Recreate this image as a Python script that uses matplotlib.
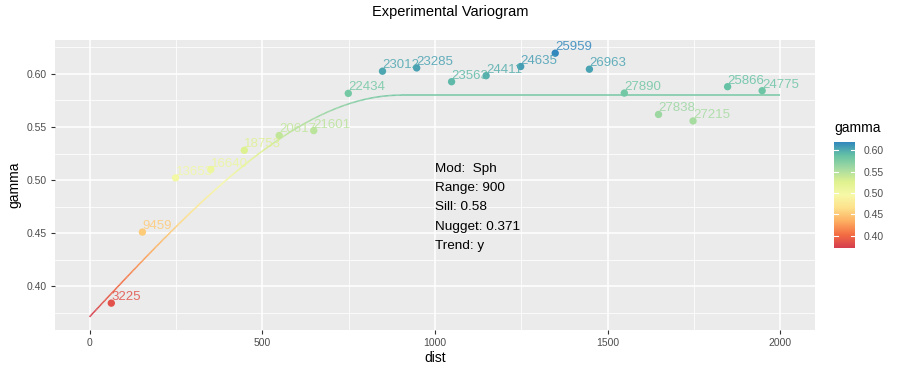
import numpy as np
import matplotlib
matplotlib.use("Agg")
import matplotlib.pyplot as plt
from matplotlib.colors import LinearSegmentedColormap, Normalize
from matplotlib.collections import LineCollection

plt.rcParams['font.family'] = ['Liberation Sans', 'DejaVu Sans']

# Data
dist = [63, 153, 249, 351, 448, 549, 649, 749, 848, 947, 1048, 1148, 1248,
        1348, 1447, 1548, 1647, 1747, 1847, 1947]
gamma = [0.3839, 0.4509, 0.5020, 0.5099, 0.5280, 0.5420, 0.5466, 0.5817,
         0.6026, 0.6057, 0.5927, 0.5984, 0.6070, 0.6196, 0.6045, 0.5820,
         0.5618, 0.5557, 0.5880, 0.5842]
npairs = ["3225", "9459", "13653", "16640", "18753", "20617", "21601", "22434",
          "23012", "23285", "23563", "24411", "24635", "25959", "26963", "27890",
          "27838", "27215", "25866", "24775"]

model_name = "Sph"
model_range = 900
model_sill = 0.58
model_nugget = 0.371
trend = "y"
model_xmax = 2000

x_ticks = [0, 500, 1000, 1500, 2000]
y_ticks = [0.40, 0.45, 0.50, 0.55, 0.60]
cbar_ticks = [0.40, 0.45, 0.50, 0.55, 0.60]

palette = ["#D53E4F", "#F46D43", "#FDAE61", "#FEE08B", "#F7F9A8", "#E0F290",
           "#A5DBA2", "#66C2A5", "#3288BD"]
cmap = LinearSegmentedColormap.from_list("spec", palette)

# model curve
h = np.linspace(0, model_xmax, 600)
hr = np.clip(h / model_range, 0, 1)
gm = model_nugget + (model_sill - model_nugget) * (1.5 * hr - 0.5 * hr ** 3)

vmin = min(min(gamma), gm.min())
vmax = max(max(gamma), gm.max())
norm = Normalize(vmin, vmax)

fig = plt.figure(figsize=(9.02, 3.76), dpi=100)
ax = fig.add_axes([55 / 902, 1 - 330 / 376, 760 / 902, 290 / 376])
ax.set_facecolor("#EBEBEB")
for s in ax.spines.values():
    s.set_visible(False)

xr = [min(dist + [0]), max(dist + [model_xmax])]
yr = [vmin, vmax]
ax.set_xlim(xr[0] - 0.05 * (xr[1] - xr[0]), xr[1] + 0.05 * (xr[1] - xr[0]))
ax.set_ylim(yr[0] - 0.05 * (yr[1] - yr[0]), yr[1] + 0.05 * (yr[1] - yr[0]))

ax.set_xticks(x_ticks)
ax.set_yticks(y_ticks)
ax.set_yticklabels([f"{v:.2f}" for v in y_ticks])
ax.set_xticks([250, 750, 1250, 1750], minor=True)
ax.set_yticks([0.375, 0.425, 0.475, 0.525, 0.575, 0.625], minor=True)
ax.grid(which="major", color="white", linewidth=1.1)
ax.grid(which="minor", color="white", linewidth=0.55)
ax.set_axisbelow(True)
ax.tick_params(which="major", length=3, color="#333333", labelsize=7.5,
               labelcolor="#4D4D4D", pad=3)
ax.tick_params(which="minor", length=0)

pts = np.column_stack([h, gm]).reshape(-1, 1, 2)
segs = np.concatenate([pts[:-1], pts[1:]], axis=1)
lc = LineCollection(segs, cmap=cmap, norm=norm, linewidth=1.1)
lc.set_array((gm[:-1] + gm[1:]) / 2)
ax.add_collection(lc)

ax.scatter(dist, gamma, c=gamma, cmap=cmap, norm=norm, s=28, zorder=3, linewidths=0)
for x, y, t in zip(dist, gamma, npairs):
    ax.text(x, y, t, color=cmap(norm(y)), fontsize=9.5, ha="left", va="bottom",
            alpha=0.85, zorder=4)

info = [f"Mod:  {model_name}", f"Range: {model_range}", f"Sill: {model_sill}",
        f"Nugget: {model_nugget}", f"Trend: {trend}"]
ax.text(1000, 0.516, "\n".join(info), fontsize=9.7, ha="left", va="top",
        linespacing=1.8, color="black")

ax.set_xlabel("dist", fontsize=10, labelpad=2)
ax.set_ylabel("gamma", fontsize=10, labelpad=4)
fig.text(450 / 902, 1 - 12 / 376, "Experimental Variogram", ha="center", va="center",
         fontsize=10.5)

# colorbar
cax = fig.add_axes([834 / 902, 1 - 248 / 376, 21 / 902, 106 / 376])
grad = np.linspace(vmin, vmax, 256).reshape(-1, 1)
cax.imshow(grad, aspect="auto", cmap=cmap, norm=norm, origin="lower",
           extent=[0, 1, vmin, vmax])
cax.set_xlim(0, 1)
cax.set_ylim(vmin, vmax)
for s in cax.spines.values():
    s.set_visible(False)
cax.set_xticks([])
cax.yaxis.tick_right()
cax.set_yticks(cbar_ticks)
cax.set_yticklabels([f"{v:.2f}" for v in cbar_ticks])
cax.tick_params(axis="y", length=0, labelsize=7.5, labelcolor="#4D4D4D", pad=6)
for v in cbar_ticks:
    cax.plot([0, 0.2], [v, v], color="white", lw=0.8)
    cax.plot([0.8, 1], [v, v], color="white", lw=0.8)
fig.text(834 / 902, 1 - 128 / 376, "gamma", ha="left", va="center", fontsize=10)

fig.savefig("out.png", dpi=100)
